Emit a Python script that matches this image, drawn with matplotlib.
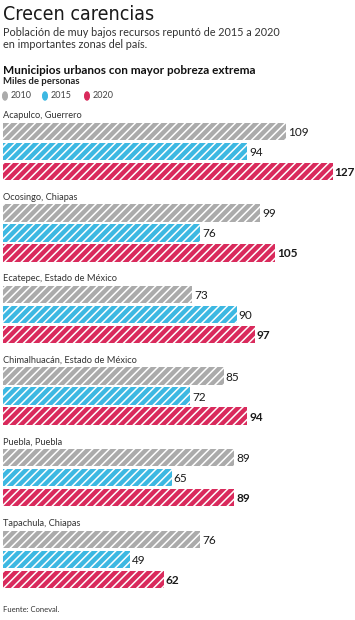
import matplotlib
matplotlib.use("Agg")
import matplotlib.pyplot as plt
from matplotlib.patches import Circle
from matplotlib import font_manager

plt.rcParams['font.family'] = ['Lato', 'DejaVu Sans']
plt.rcParams['hatch.linewidth'] = 1.1

names = sorted({f.name for f in font_manager.fontManager.ttflist})
cond = [f.fname for f in font_manager.fontManager.ttflist if 'ondensed' in f.fname or 'arrow' in f.fname]
print(names)
print(cond)

municipios = ["Acapulco, Guerrero", "Ocosingo, Chiapas", "Ecatepec, Estado de México",
              "Chimalhuacán, Estado de México", "Puebla, Puebla", "Tapachula, Chiapas"]
years = ["2010", "2015", "2020"]
v2010 = [109, 99, 73, 85, 89, 76]
v2015 = [94, 76, 90, 72, 65, 49]
v2020 = [127, 105, 97, 94, 89, 62]
colors = ["#ababab", "#3db8e2", "#d92a5c"]

W, H = 355, 620
fig = plt.figure(figsize=(W / 100, H / 100), dpi=100)
ax = fig.add_axes([0, 0, 1, 1])
scale = 2.595
x0 = 3
ax.set_xlim(-x0 / scale, (W - x0) / scale)
ax.set_ylim(H, 0)
ax.axis('off')

def px(x):
    return x / W

def py(y):
    return 1 - y / H

# Titles
fig.text(px(3), py(15), "Crecen carencias", family=['DejaVu Sans'], fontstretch='condensed',
         fontsize=14, color="#1a1a1a", va='center', ha='left')
fig.text(px(3), py(32), "Población de muy bajos recursos repuntó de 2015 a 2020",
         fontsize=7.8, color="#333333", va='center', ha='left')
fig.text(px(3), py(44), "en importantes zonas del país.",
         fontsize=7.8, color="#333333", va='center', ha='left')
fig.text(px(3), py(70), "Municipios urbanos con mayor pobreza extrema",
         fontsize=8.5, fontweight='bold', color="#111111", va='center', ha='left')
fig.text(px(3), py(82), "Miles de personas",
         fontsize=6.8, fontweight='bold', color="#222222", va='center', ha='left')

leg_x = [5, 45, 87]
for lx, yr, c in zip(leg_x, years, colors):
    fig.patches.append(Circle((px(lx), py(96)), radius=2.3 / W, transform=fig.transFigure,
                              color=c))
    fig.text(px(lx + 5.5), py(96), yr, fontsize=6.5, color="#444444", va='center', ha='left')

series = [v2010, v2015, v2020]
top0 = 122.5
gstep = 81.6
bh = 17.5
bstep = 20
for i, name in enumerate(municipios):
    top = top0 + i * gstep
    ax.text(0, top - 7, name, fontsize=6.7, color="#333333", va='center', ha='left')
    for j, (vals, c) in enumerate(zip(series, colors)):
        yc = top + bh / 2 + j * bstep
        ax.barh(yc, vals[i], height=bh, left=0, color=c, edgecolor='white',
                linewidth=0, hatch='////')
        ax.text(vals[i] + 0.8, yc + 1, str(vals[i]), fontsize=8.5,
                fontweight='bold' if j == 2 else 'normal', color="#1a1a1a",
                va='center', ha='left')

fig.text(px(3), py(610), "Fuente: Coneval.", fontsize=5.5, color="#333333",
         va='center', ha='left')

fig.savefig("out.png", dpi=100)
